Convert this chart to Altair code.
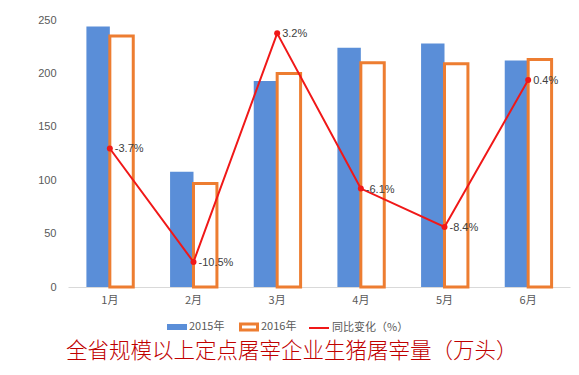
import altair as alt
import pandas as pd

months = ["1月", "2月", "3月", "4月", "5月", "6月"]
v2015 = [244, 108, 193, 224, 228, 212]
v2016 = [235, 97, 200, 210, 209, 213]
yoy = [-3.7, -10.5, 3.2, -6.1, -8.4, 0.4]
yoy_labels = ["-3.7%", "-10.5%", "3.2%", "-6.1%", "-8.4%", "0.4%"]
series = ["2015年", "2016年", "同比变化（%）"]

BLUE = "#5A8ED8"
ORANGE = "#ED7D31"
RED = "#F01818"
GRAY = "#595959"
FONT = "Noto Sans CJK SC"

df15 = pd.DataFrame({"month": months, "series": series[0], "value": v2015})
df16 = pd.DataFrame({"month": months, "series": series[1], "value": v2016})
dfl = pd.DataFrame({"month": months, "series": series[2], "yoy": yoy, "label": yoy_labels})

x_enc = alt.X(
    "month:N", sort=months,
    scale=alt.Scale(paddingInner=0.44, paddingOuter=0.22),
    axis=alt.Axis(title=None, labelAngle=0, ticks=False, domainColor="#D9D9D9",
                  labelColor=GRAY, labelFontSize=11, labelFont=FONT, labelPadding=7),
)
xo = alt.XOffset("series:N", scale=alt.Scale(domain=series[:2], paddingInner=0, paddingOuter=0))
y_bar_scale = alt.Scale(domain=[0, 250], nice=False)
y_line_scale = alt.Scale(domain=[-12, 4], nice=False, zero=False)

leg_common = dict(title=None, orient="none", direction="horizontal",
                  labelFontSize=11, labelColor=GRAY, labelFont=FONT, labelOffset=2)

bars15 = alt.Chart(df15).mark_bar().encode(
    x=x_enc, xOffset=xo,
    y=alt.Y("value:Q", scale=y_bar_scale,
            axis=alt.Axis(title=None, values=[0, 50, 100, 150, 200, 250], grid=False, domain=False,
                          ticks=False, labelColor=GRAY, labelFontSize=11, labelPadding=12,
                          minExtent=50, maxExtent=50)),
    color=alt.Color("series:N", scale=alt.Scale(domain=[series[0]], range=[BLUE]),
                    legend=alt.Legend(legendX=99, legendY=297, symbolType="M-1,-0.3H1V0.3H-1Z",
                                      symbolSize=400, symbolStrokeWidth=0, **leg_common)),
)

bars16 = alt.Chart(df16).mark_bar(filled=False, strokeWidth=3, fill="white").encode(
    x=x_enc, xOffset=xo,
    y=alt.Y("value:Q", scale=y_bar_scale, axis=None),
    color=alt.Color("series:N", scale=alt.Scale(domain=[series[1]], range=[ORANGE]),
                    legend=alt.Legend(legendX=171, legendY=297, symbolType="M-1,-0.35H1V0.35H-1Z",
                                      symbolSize=289, symbolStrokeWidth=3, **leg_common)),
)

line = alt.Chart(dfl).mark_line(strokeWidth=2).encode(
    x=x_enc,
    y=alt.Y("yoy:Q", scale=y_line_scale, axis=None),
    color=alt.Color("series:N", scale=alt.Scale(domain=[series[2]], range=[RED]),
                    legend=alt.Legend(legendX=240, legendY=297, symbolType="stroke",
                                      symbolSize=400, symbolStrokeWidth=2, **leg_common)),
)

points = alt.Chart(dfl).mark_circle(size=36, opacity=1, color=RED).encode(
    x=x_enc,
    y=alt.Y("yoy:Q", scale=y_line_scale, axis=None),
)

labels = alt.Chart(dfl).mark_text(align="left", baseline="middle", dx=5, dy=1,
                                  fontSize=11, color="#404040").encode(
    x=x_enc,
    y=alt.Y("yoy:Q", scale=y_line_scale, axis=None),
    text="label:N",
)

chart = alt.layer(bars15, bars16, line, points, labels).resolve_scale(
    y="independent", color="independent"
).resolve_legend(color="independent").properties(
    width=502, height=267,
    autosize=alt.AutoSizeParams(type="none"),
    padding={"left": 60, "top": 12, "right": 1, "bottom": 80},
    title=alt.TitleParams("全省规模以上定点屠宰企业生猪屠宰量（万头）", orient="bottom", anchor="start",
                          frame="group", fontSize=21.5, color="#C00000", font=FONT,
                          fontWeight=300, offset=5, dx=-2),
).configure_view(stroke=None)

chart.save("out.html", embed_options={"renderer": "svg", "actions": False})
